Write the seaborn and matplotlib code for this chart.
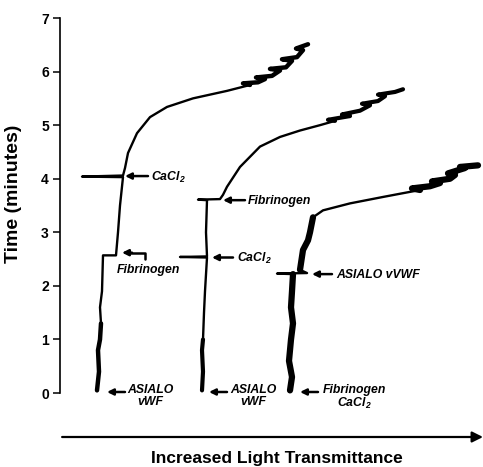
import matplotlib
matplotlib.use("Agg")
import matplotlib.pyplot as plt
import seaborn as sns
import pandas as pd

# Pen traces.
# x = light transmittance (arbitrary units), t = time in minutes
trace1_x = [37, 39, 38, 40, 41, 40, 42, 43, 56, 58, 60, 63, 22, 63, 65, 68,
            77, 90, 107, 133, 167, 190, 183, 198, 205, 196, 212, 220, 210,
            226, 232, 222, 237, 243, 236, 248]
trace1_t = [0.05, 0.4, 0.8, 1.0, 1.3, 1.6, 1.9, 2.57, 2.57, 3.0, 3.5, 4.03,
            4.04, 4.06, 4.2, 4.48, 4.85, 5.15, 5.34, 5.5, 5.64, 5.75, 5.78,
            5.80, 5.86, 5.89, 5.92, 6.02, 6.05, 6.08, 6.2, 6.23, 6.27, 6.4,
            6.43, 6.51]

trace2_x = [142, 143, 142, 143, 144, 145, 147, 120, 147, 146, 147, 138, 160,
            163, 167, 180, 200, 220, 240, 260, 275, 268, 290, 282, 300, 310,
            302, 318, 325, 318, 335, 343]
trace2_t = [0.05, 0.4, 0.8, 1.0, 1.5, 1.9, 2.53, 2.54, 2.55, 3.0, 3.6, 3.61,
            3.62, 3.7, 3.85, 4.22, 4.6, 4.78, 4.9, 5.0, 5.08, 5.1, 5.17, 5.2,
            5.27, 5.37, 5.4, 5.45, 5.54, 5.57, 5.62, 5.67]

trace3_x = [230, 232, 229, 231, 233, 231, 232, 233, 217, 247, 240, 243, 248,
            250, 253, 263, 290, 323, 340, 360, 352, 370, 380, 372, 390, 395,
            388, 405, 400, 418]
trace3_t = [0.05, 0.3, 0.6, 1.0, 1.3, 1.6, 1.9, 2.22, 2.23, 2.24, 2.3, 2.67,
            2.85, 3.0, 3.28, 3.41, 3.54, 3.66, 3.72, 3.79, 3.82, 3.86, 3.92,
            3.95, 4.0, 4.07, 4.1, 4.2, 4.22, 4.25]

# noisy (thick) stretches of each trace, as index ranges
heavy1 = [(0, 5), (21, 36)]
heavy2 = [(0, 4), (20, 32)]
heavy3 = [(0, 8), (10, 15), (19, 30)]

y_ticks = [0, 1, 2, 3, 4, 5, 6, 7]

sns.set_theme(style="ticks")
plt.rcParams["font.family"] = ["Liberation Sans", "DejaVu Sans"]
plt.rcParams["mathtext.fontset"] = "custom"
plt.rcParams["mathtext.rm"] = "Liberation Sans:bold:italic"
plt.rcParams["mathtext.it"] = "Liberation Sans:bold:italic"
plt.rcParams["mathtext.default"] = "regular"

fig = plt.figure(figsize=(4.83, 4.67), dpi=100)
ax = fig.add_axes([60 / 483, 30 / 467, 423 / 483, 419 / 467])

traces = [(trace1_x, trace1_t, heavy1),
          (trace2_x, trace2_t, heavy2),
          (trace3_x, trace3_t, heavy3)]
heavy_lw = [3.2, 3.0, 4.5]
for i, (tx, tt, heavy) in enumerate(traces):
    df = pd.DataFrame({"x": tx, "t": tt})
    sns.lineplot(data=df, x="x", y="t", sort=False, estimator=None,
                 color="black", linewidth=1.7, ax=ax)
    for a, b in heavy:
        sub = df.iloc[a:b]
        sns.lineplot(data=sub, x="x", y="t", sort=False, estimator=None,
                     color="black", linewidth=heavy_lw[i], ax=ax)

ax.set_xlim(0, 423)
ax.set_ylim(-0.82, 7)
ax.set_yticks(y_ticks)
ax.set_xticks([])
for s in ["top", "right", "bottom"]:
    ax.spines[s].set_visible(False)
ax.spines["left"].set_bounds(0, 7)
ax.spines["left"].set_linewidth(1.2)
ax.spines["left"].set_color("black")
ax.tick_params(axis="y", length=5, width=1.1, color="black", pad=3,
               labelsize=10, labelcolor="black")
for lab in ax.get_yticklabels():
    lab.set_fontweight("bold")

ax.set_ylabel("Time (minutes)", fontsize=14, fontweight="bold", color="black")
ax.yaxis.set_label_coords(-0.09, 0.58)
ax.set_xlabel("")

# x axis arrow and label
ax.annotate("", xy=(1.0, -0.82), xytext=(0.005, -0.82),
            xycoords=("axes fraction", "data"),
            arrowprops=dict(arrowstyle="-|>", color="black", lw=1.6,
                            mutation_scale=16, shrinkA=0, shrinkB=0),
            annotation_clip=False)
fig.text(277 / 483, 1 - 458 / 467, "Increased Light Transmittance",
         ha="center", va="center", fontsize=12.5, fontweight="bold",
         color="black")

ann = dict(fontsize=8.8, fontweight="bold", fontstyle="italic",
           color="black")
arrow = dict(arrowstyle="-|>", color="black", lw=1.8, mutation_scale=9,
             shrinkA=0, shrinkB=0)


def left_arrow(x_tip, x_tail, t):
    ax.annotate("", xy=(x_tip, t), xytext=(x_tail, t), arrowprops=arrow)


# bottom labels
left_arrow(47, 65, 0.02)
ax.text(90, 0.17, "ASIALO\nvWF", ha="center", va="top", linespacing=1.0,
        **ann)
left_arrow(149, 167, 0.02)
ax.text(193, 0.17, "ASIALO\nvWF", ha="center", va="top", linespacing=1.0,
        **ann)
left_arrow(240, 258, 0.02)
ax.text(294, 0.17, "Fibrinogen\nCaCl$_2$", ha="center", va="top",
        linespacing=1.0, **ann)

# trace 1
left_arrow(65, 88, 4.05)
ax.text(91, 4.03, "CaCl$_2$", ha="left", va="center", **ann)
ax.plot([85, 85, 70], [2.5, 2.62, 2.62], color="black", lw=1.8)
left_arrow(62, 72, 2.62)
ax.text(88, 2.29, "Fibrinogen", ha="center", va="center", **ann)

# trace 2
left_arrow(163, 185, 3.6)
ax.text(188, 3.58, "Fibrinogen", ha="left", va="center", **ann)
left_arrow(152, 173, 2.53)
ax.text(177, 2.51, "CaCl$_2$", ha="left", va="center", **ann)

# trace 3
left_arrow(252, 272, 2.22)
ax.text(276, 2.2, "ASIALO vVWF", ha="left", va="center", **ann)

fig.savefig("out.png", dpi=100)
